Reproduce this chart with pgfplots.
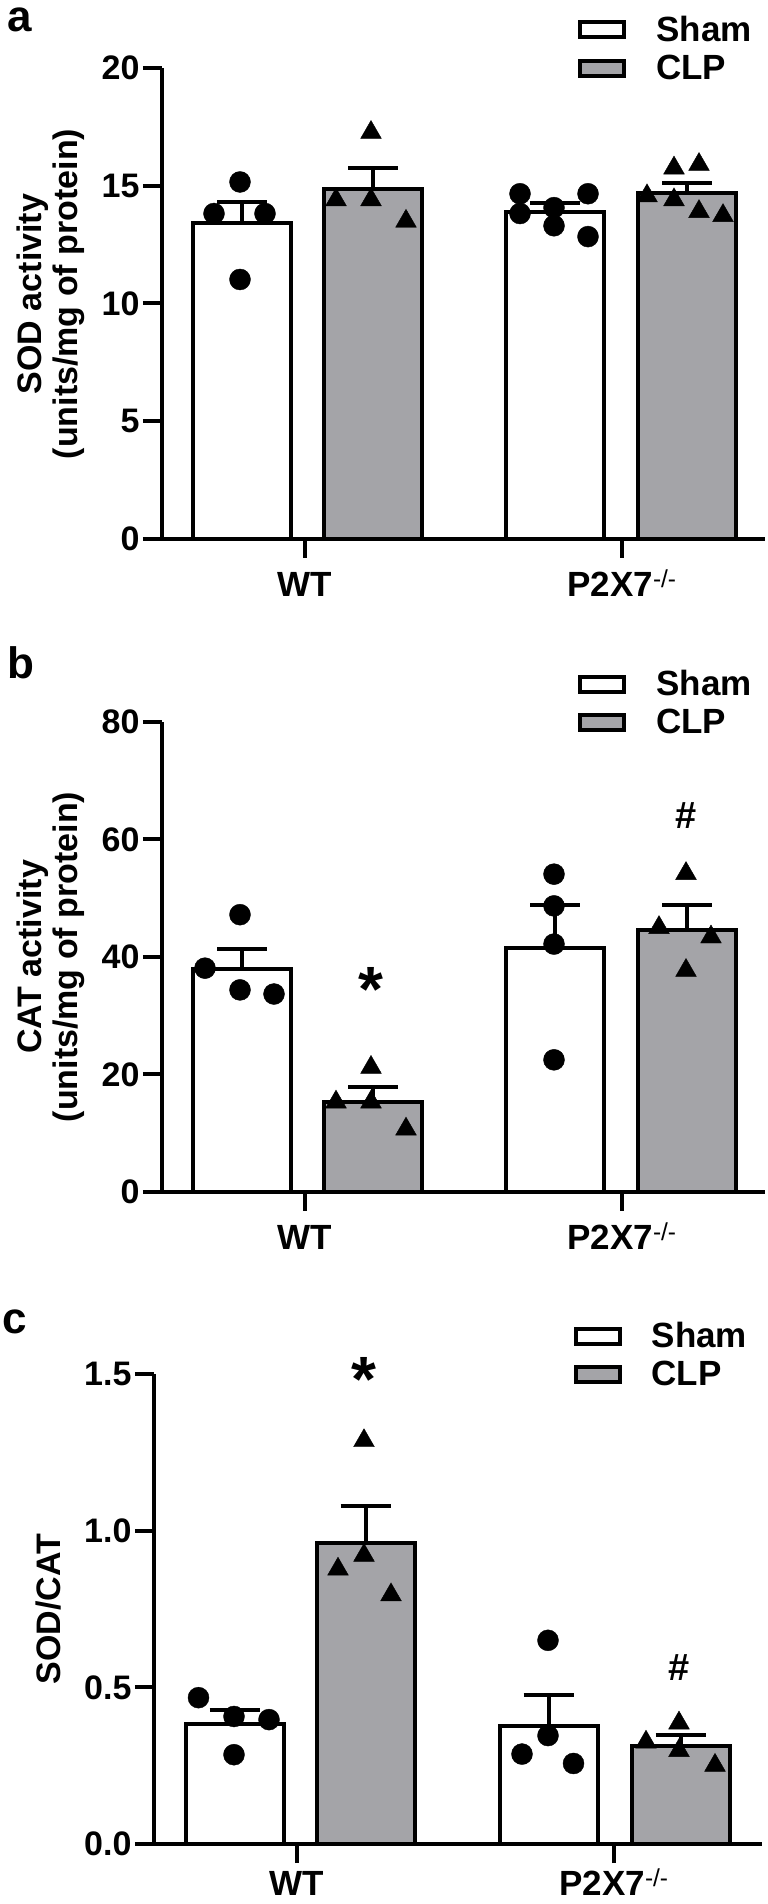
\documentclass[border=0pt]{standalone}
\usepackage{fontspec}
\setmainfont{Liberation Sans}
\usepackage{pgfplots}
\pgfplotsset{compat=1.18}

\newcommand{\tickf}{\fontsize{34}{38}\selectfont\bfseries}
\newcommand{\labf}{\fontsize{35}{38}\selectfont\bfseries}
\newcommand{\ylabf}{\fontsize{34}{36}\selectfont\bfseries}
\newcommand{\panf}{\fontsize{44}{46}\selectfont\bfseries}

\pgfplotsset{
  myaxis/.style={
    scale only axis,
    anchor=south west,
    xmin=0, xmax=603,
    axis x line*=bottom, axis y line*=left,
    axis line style={line width=4pt, -},
    tick style={line width=4pt, black},
    tick align=outside,
    major tick length=19pt,
    xtick={143,460},
    xticklabels={WT, P2X7\textsuperscript{\mdseries -/-}},
    /pgf/number format/assume math mode=true,
    ticklabel style={font=\tickf},
    xticklabel style={font=\labf, anchor=base, inner sep=0pt, yshift=-38.5pt},
    every axis y label/.style={at={(rel axis cs:-0.128,0.5)}, rotate=90, anchor=south, inner sep=0pt, align=center, font=\ylabf},
    clip=false,
    legend style={at={(rel axis cs:0.69,1.114)}, anchor=north west, draw=none, fill=none, font=\labf, row sep=8pt, inner sep=0pt, column sep=28pt},
    legend cell align=left,
    legend image code/.code={\draw[##1] (0pt,-7.5pt) rectangle (44pt,7.5pt);},
  },
  shambar/.style={ybar, bar width=98, bar shift=0pt, fill=white, draw=black, line width=4pt, forget plot,
    error bars/.cd, y dir=plus, y explicit, error bar style={line width=4pt, black},
    error mark options={rotate=90, mark size=25pt, line width=4pt, black}},
  clpbar/.style={ybar, bar width=98, bar shift=0pt, fill=clpgray, draw=black, line width=4pt, forget plot,
    error bars/.cd, y dir=plus, y explicit, error bar style={line width=4pt, black},
    error mark options={rotate=90, mark size=25pt, line width=4pt, black}},
  dots/.style={only marks, mark=*, mark size=10.5pt, black, forget plot},
  tris/.style={only marks, mark=triangle*, mark size=12pt, black, forget plot},
}
\definecolor{clpgray}{RGB}{164,164,168}

\begin{document}
\begin{tikzpicture}[x=1pt,y=1pt]
\useasboundingbox (0,0) rectangle (768,1904);

% ---------------- panel a
\begin{axis}[myaxis, at={(162pt,1365pt)}, width=603pt, height=471pt,
  ymin=0, ymax=20, ytick={0,5,10,15,20},
  ylabel={SOD activity\\(units/mg of protein)},
  every axis y label/.append style={at={(rel axis cs:-0.128,0.52)}}]
\addlegendimage{fill=white, draw=black, line width=4pt}
\addlegendentry{Sham}
\addlegendimage{fill=clpgray, draw=black, line width=4pt}
\addlegendentry{CLP}
\addplot[shambar] coordinates {(80,13.4) +- (0,0.92) (393,13.9) +- (0,0.37)};
\addplot[clpbar] coordinates {(211,14.85) +- (0,0.91) (525,14.7) +- (0,0.43)};
\addplot[dots] coordinates {(78,15.16) (52,13.82) (103,13.82) (78,11.02)
  (358,14.66) (426,14.66) (358,13.82) (392,14.07) (392,13.3) (426,12.84)};
\addplot[tris] coordinates {(209,17.26) (174,14.4) (209,14.4) (244,13.49)
  (485,14.57) (512,15.75) (512,14.4) (537,15.9) (537,13.9) (561,13.73)};
\node[anchor=base west, font=\panf, inner sep=0pt] at (rel axis cs:-0.257,1.078) {a};
\end{axis}

% ---------------- panel b
\begin{axis}[myaxis, at={(162pt,712pt)}, width=603pt, height=470pt,
  ymin=0, ymax=80, ytick={0,20,40,60,80},
  ylabel={CAT activity\\(units/mg of protein)}]
\addlegendimage{fill=white, draw=black, line width=4pt}
\addlegendentry{Sham}
\addlegendimage{fill=clpgray, draw=black, line width=4pt}
\addlegendentry{CLP}
\addplot[shambar] coordinates {(80,38.0) +- (0,3.4) (393,41.5) +- (0,7.3)};
\addplot[clpbar] coordinates {(211,15.3) +- (0,2.65) (525,44.6) +- (0,4.2)};
\addplot[dots] coordinates {(78,47.2) (43,38.1) (78,34.4) (112,33.7)
  (392,54.1) (392,48.7) (392,42.2) (392,22.5)};
\addplot[tris] coordinates {(209,21.2) (174,15.3) (209,15.3) (244,10.7)
  (524,54.2) (497,45.0) (549,43.4) (524,37.7)};
\node[font=\fontsize{64}{64}\selectfont\bfseries, yshift=-13pt] at (axis cs:209,36.7) {*};
\node[font=\fontsize{38}{40}\selectfont\bfseries] at (axis cs:524,64) {\#};
\node[anchor=base west, font=\panf, inner sep=0pt] at (rel axis cs:-0.257,1.0915) {b};
\end{axis}

% ---------------- panel c
\begin{axis}[myaxis, at={(154pt,60pt)}, width=608pt, height=470pt, xmax=608,
  ymin=0, ymax=1.5, ytick={0,0.5,1.0,1.5},
  yticklabel style={/pgf/number format/.cd, fixed, fixed zerofill, precision=1},
  xticklabel style={yshift=6pt},
  ylabel={SOD/CAT},
  every axis y label/.append style={at={(rel axis cs:-0.152,0.5)}}]
\addlegendimage{fill=white, draw=black, line width=4pt}
\addlegendentry{Sham}
\addlegendimage{fill=clpgray, draw=black, line width=4pt}
\addlegendentry{CLP}
\addplot[shambar] coordinates {(80.5,0.382) +- (0,0.045) (394.5,0.375) +- (0,0.099)};
\addplot[clpbar] coordinates {(211.5,0.96) +- (0,0.12) (526.5,0.314) +- (0,0.034)};
\addplot[dots] coordinates {(44.5,0.467) (80,0.407) (115,0.397) (80,0.285)
  (394,0.650) (394,0.346) (368,0.287) (419.5,0.257)};
\addplot[tris] coordinates {(210,1.287) (210,0.921) (184,0.877) (237,0.795)
  (525,0.386) (492,0.325) (525,0.298) (561,0.251)};
\node[font=\fontsize{64}{64}\selectfont\bfseries, yshift=-13pt] at (axis cs:210,1.524) {*};
\node[font=\fontsize{38}{40}\selectfont\bfseries] at (axis cs:525,0.562) {\#};
\node[anchor=base west, font=\panf, inner sep=0pt] at (rel axis cs:-0.25,1.087) {c};
\end{axis}
\end{tikzpicture}
\end{document}
